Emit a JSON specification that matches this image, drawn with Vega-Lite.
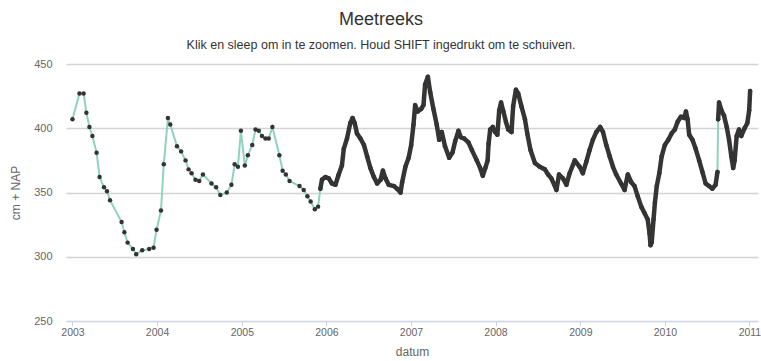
{
  "$schema": "https://vega.github.io/schema/vega-lite/v6.json",
  "width": 692,
  "height": 257,
  "autosize": {"type": "none"},
  "padding": {"left": 66, "top": 64, "right": 3, "bottom": 40},
  "background": "white",
  "title": {
    "text": "Meetreeks",
    "subtitle": "Klik en sleep om in te zoomen. Houd SHIFT ingedrukt om te schuiven.",
    "anchor": "middle",
    "frame": "group",
    "dx": -31,
    "offset": 7,
    "font": "Liberation Sans",
    "fontSize": 18,
    "fontWeight": "normal",
    "color": "#333333",
    "subtitleFont": "Liberation Sans",
    "subtitleFontSize": 12.5,
    "subtitleColor": "#333333",
    "subtitlePadding": 10
  },
  "data": {
    "values": [
      {"datum": "2003-01-01", "stand": 407, "bron": "handmatig"},
      {"datum": "2003-01-31", "stand": 427, "bron": "handmatig"},
      {"datum": "2003-02-18", "stand": 427, "bron": "handmatig"},
      {"datum": "2003-03-02", "stand": 412, "bron": "handmatig"},
      {"datum": "2003-03-15", "stand": 401, "bron": "handmatig"},
      {"datum": "2003-03-28", "stand": 394, "bron": "handmatig"},
      {"datum": "2003-04-15", "stand": 381, "bron": "handmatig"},
      {"datum": "2003-04-28", "stand": 362, "bron": "handmatig"},
      {"datum": "2003-05-17", "stand": 354, "bron": "handmatig"},
      {"datum": "2003-05-30", "stand": 351, "bron": "handmatig"},
      {"datum": "2003-06-12", "stand": 344, "bron": "handmatig"},
      {"datum": "2003-08-01", "stand": 327, "bron": "handmatig"},
      {"datum": "2003-08-13", "stand": 319, "bron": "handmatig"},
      {"datum": "2003-08-27", "stand": 311, "bron": "handmatig"},
      {"datum": "2003-09-19", "stand": 306, "bron": "handmatig"},
      {"datum": "2003-10-03", "stand": 302, "bron": "handmatig"},
      {"datum": "2003-10-29", "stand": 305, "bron": "handmatig"},
      {"datum": "2003-11-28", "stand": 306, "bron": "handmatig"},
      {"datum": "2003-12-17", "stand": 307, "bron": "handmatig"},
      {"datum": "2003-12-30", "stand": 321, "bron": "handmatig"},
      {"datum": "2004-01-18", "stand": 336, "bron": "handmatig"},
      {"datum": "2004-01-30", "stand": 372, "bron": "handmatig"},
      {"datum": "2004-02-17", "stand": 408, "bron": "handmatig"},
      {"datum": "2004-02-27", "stand": 403, "bron": "handmatig"},
      {"datum": "2004-03-27", "stand": 386, "bron": "handmatig"},
      {"datum": "2004-04-14", "stand": 382, "bron": "handmatig"},
      {"datum": "2004-05-03", "stand": 375, "bron": "handmatig"},
      {"datum": "2004-05-16", "stand": 368, "bron": "handmatig"},
      {"datum": "2004-05-29", "stand": 365, "bron": "handmatig"},
      {"datum": "2004-06-15", "stand": 360, "bron": "handmatig"},
      {"datum": "2004-07-01", "stand": 359, "bron": "handmatig"},
      {"datum": "2004-07-17", "stand": 364, "bron": "handmatig"},
      {"datum": "2004-08-23", "stand": 357, "bron": "handmatig"},
      {"datum": "2004-09-12", "stand": 354, "bron": "handmatig"},
      {"datum": "2004-09-30", "stand": 348, "bron": "handmatig"},
      {"datum": "2004-10-28", "stand": 350, "bron": "handmatig"},
      {"datum": "2004-11-17", "stand": 356, "bron": "handmatig"},
      {"datum": "2004-12-01", "stand": 372, "bron": "handmatig"},
      {"datum": "2004-12-15", "stand": 370, "bron": "handmatig"},
      {"datum": "2004-12-28", "stand": 398, "bron": "handmatig"},
      {"datum": "2005-01-14", "stand": 371, "bron": "handmatig"},
      {"datum": "2005-01-27", "stand": 379, "bron": "handmatig"},
      {"datum": "2005-02-15", "stand": 387, "bron": "handmatig"},
      {"datum": "2005-03-01", "stand": 399, "bron": "handmatig"},
      {"datum": "2005-03-15", "stand": 398, "bron": "handmatig"},
      {"datum": "2005-03-29", "stand": 394, "bron": "handmatig"},
      {"datum": "2005-04-13", "stand": 392, "bron": "handmatig"},
      {"datum": "2005-04-27", "stand": 392, "bron": "handmatig"},
      {"datum": "2005-05-13", "stand": 401, "bron": "handmatig"},
      {"datum": "2005-06-12", "stand": 379, "bron": "handmatig"},
      {"datum": "2005-06-26", "stand": 367, "bron": "handmatig"},
      {"datum": "2005-07-10", "stand": 364, "bron": "handmatig"},
      {"datum": "2005-07-26", "stand": 359, "bron": "handmatig"},
      {"datum": "2005-09-07", "stand": 355, "bron": "handmatig"},
      {"datum": "2005-09-25", "stand": 352, "bron": "handmatig"},
      {"datum": "2005-10-11", "stand": 347, "bron": "handmatig"},
      {"datum": "2005-10-25", "stand": 343, "bron": "handmatig"},
      {"datum": "2005-11-12", "stand": 337, "bron": "handmatig"},
      {"datum": "2005-11-26", "stand": 339, "bron": "handmatig"},
      {"datum": "2005-12-06", "stand": 353, "bron": "diver", "deel": 1},
      {"datum": "2005-12-13", "stand": 360, "bron": "diver", "deel": 1},
      {"datum": "2005-12-28", "stand": 362, "bron": "diver", "deel": 1},
      {"datum": "2006-01-11", "stand": 361, "bron": "diver", "deel": 1},
      {"datum": "2006-01-25", "stand": 357, "bron": "diver", "deel": 1},
      {"datum": "2006-02-09", "stand": 356, "bron": "diver", "deel": 1},
      {"datum": "2006-02-23", "stand": 364, "bron": "diver", "deel": 1},
      {"datum": "2006-03-09", "stand": 371, "bron": "diver", "deel": 1},
      {"datum": "2006-03-17", "stand": 384, "bron": "diver", "deel": 1},
      {"datum": "2006-03-31", "stand": 392, "bron": "diver", "deel": 1},
      {"datum": "2006-04-14", "stand": 404, "bron": "diver", "deel": 1},
      {"datum": "2006-04-24", "stand": 408, "bron": "diver", "deel": 1},
      {"datum": "2006-05-03", "stand": 404, "bron": "diver", "deel": 1},
      {"datum": "2006-05-13", "stand": 396, "bron": "diver", "deel": 1},
      {"datum": "2006-05-28", "stand": 392, "bron": "diver", "deel": 1},
      {"datum": "2006-06-12", "stand": 387, "bron": "diver", "deel": 1},
      {"datum": "2006-06-26", "stand": 378, "bron": "diver", "deel": 1},
      {"datum": "2006-07-10", "stand": 369, "bron": "diver", "deel": 1},
      {"datum": "2006-07-25", "stand": 362, "bron": "diver", "deel": 1},
      {"datum": "2006-08-08", "stand": 357, "bron": "diver", "deel": 1},
      {"datum": "2006-08-23", "stand": 360, "bron": "diver", "deel": 1},
      {"datum": "2006-09-02", "stand": 367, "bron": "diver", "deel": 1},
      {"datum": "2006-09-13", "stand": 361, "bron": "diver", "deel": 1},
      {"datum": "2006-09-27", "stand": 356, "bron": "diver", "deel": 1},
      {"datum": "2006-10-19", "stand": 355, "bron": "diver", "deel": 1},
      {"datum": "2006-11-02", "stand": 353, "bron": "diver", "deel": 1},
      {"datum": "2006-11-17", "stand": 350, "bron": "diver", "deel": 1},
      {"datum": "2006-11-24", "stand": 358, "bron": "diver", "deel": 1},
      {"datum": "2006-12-08", "stand": 370, "bron": "diver", "deel": 1},
      {"datum": "2006-12-22", "stand": 377, "bron": "diver", "deel": 1},
      {"datum": "2007-01-02", "stand": 387, "bron": "diver", "deel": 1},
      {"datum": "2007-01-12", "stand": 403, "bron": "diver", "deel": 1},
      {"datum": "2007-01-19", "stand": 418, "bron": "diver", "deel": 1},
      {"datum": "2007-01-30", "stand": 413, "bron": "diver", "deel": 1},
      {"datum": "2007-02-14", "stand": 415, "bron": "diver", "deel": 1},
      {"datum": "2007-02-24", "stand": 418, "bron": "diver", "deel": 1},
      {"datum": "2007-03-03", "stand": 434, "bron": "diver", "deel": 1},
      {"datum": "2007-03-15", "stand": 440, "bron": "diver", "deel": 1},
      {"datum": "2007-03-25", "stand": 428, "bron": "diver", "deel": 1},
      {"datum": "2007-04-08", "stand": 415, "bron": "diver", "deel": 1},
      {"datum": "2007-04-22", "stand": 403, "bron": "diver", "deel": 1},
      {"datum": "2007-05-03", "stand": 391, "bron": "diver", "deel": 1},
      {"datum": "2007-05-14", "stand": 397, "bron": "diver", "deel": 1},
      {"datum": "2007-05-28", "stand": 386, "bron": "diver", "deel": 1},
      {"datum": "2007-06-15", "stand": 377, "bron": "diver", "deel": 1},
      {"datum": "2007-06-29", "stand": 381, "bron": "diver", "deel": 1},
      {"datum": "2007-07-11", "stand": 390, "bron": "diver", "deel": 1},
      {"datum": "2007-07-25", "stand": 398, "bron": "diver", "deel": 1},
      {"datum": "2007-08-04", "stand": 393, "bron": "diver", "deel": 1},
      {"datum": "2007-08-19", "stand": 392, "bron": "diver", "deel": 1},
      {"datum": "2007-09-06", "stand": 389, "bron": "diver", "deel": 1},
      {"datum": "2007-09-21", "stand": 383, "bron": "diver", "deel": 1},
      {"datum": "2007-10-12", "stand": 375, "bron": "diver", "deel": 1},
      {"datum": "2007-10-27", "stand": 369, "bron": "diver", "deel": 1},
      {"datum": "2007-11-07", "stand": 363, "bron": "diver", "deel": 1},
      {"datum": "2007-11-18", "stand": 369, "bron": "diver", "deel": 1},
      {"datum": "2007-11-28", "stand": 375, "bron": "diver", "deel": 1},
      {"datum": "2007-12-02", "stand": 388, "bron": "diver", "deel": 1},
      {"datum": "2007-12-09", "stand": 399, "bron": "diver", "deel": 1},
      {"datum": "2007-12-20", "stand": 401, "bron": "diver", "deel": 1},
      {"datum": "2007-12-30", "stand": 397, "bron": "diver", "deel": 1},
      {"datum": "2008-01-09", "stand": 395, "bron": "diver", "deel": 1},
      {"datum": "2008-01-17", "stand": 414, "bron": "diver", "deel": 1},
      {"datum": "2008-01-25", "stand": 420, "bron": "diver", "deel": 1},
      {"datum": "2008-02-04", "stand": 413, "bron": "diver", "deel": 1},
      {"datum": "2008-02-15", "stand": 405, "bron": "diver", "deel": 1},
      {"datum": "2008-02-25", "stand": 399, "bron": "diver", "deel": 1},
      {"datum": "2008-03-10", "stand": 397, "bron": "diver", "deel": 1},
      {"datum": "2008-03-17", "stand": 417, "bron": "diver", "deel": 1},
      {"datum": "2008-03-29", "stand": 430, "bron": "diver", "deel": 1},
      {"datum": "2008-04-08", "stand": 427, "bron": "diver", "deel": 1},
      {"datum": "2008-04-22", "stand": 417, "bron": "diver", "deel": 1},
      {"datum": "2008-05-07", "stand": 407, "bron": "diver", "deel": 1},
      {"datum": "2008-05-17", "stand": 396, "bron": "diver", "deel": 1},
      {"datum": "2008-05-31", "stand": 383, "bron": "diver", "deel": 1},
      {"datum": "2008-06-19", "stand": 373, "bron": "diver", "deel": 1},
      {"datum": "2008-07-10", "stand": 370, "bron": "diver", "deel": 1},
      {"datum": "2008-08-01", "stand": 368, "bron": "diver", "deel": 1},
      {"datum": "2008-08-15", "stand": 364, "bron": "diver", "deel": 1},
      {"datum": "2008-08-29", "stand": 361, "bron": "diver", "deel": 1},
      {"datum": "2008-09-20", "stand": 352, "bron": "diver", "deel": 1},
      {"datum": "2008-10-01", "stand": 364, "bron": "diver", "deel": 1},
      {"datum": "2008-10-18", "stand": 361, "bron": "diver", "deel": 1},
      {"datum": "2008-11-02", "stand": 356, "bron": "diver", "deel": 1},
      {"datum": "2008-11-16", "stand": 365, "bron": "diver", "deel": 1},
      {"datum": "2008-12-08", "stand": 375, "bron": "diver", "deel": 1},
      {"datum": "2008-12-29", "stand": 370, "bron": "diver", "deel": 1},
      {"datum": "2009-01-12", "stand": 365, "bron": "diver", "deel": 1},
      {"datum": "2009-01-27", "stand": 374, "bron": "diver", "deel": 1},
      {"datum": "2009-02-10", "stand": 383, "bron": "diver", "deel": 1},
      {"datum": "2009-02-24", "stand": 391, "bron": "diver", "deel": 1},
      {"datum": "2009-03-11", "stand": 397, "bron": "diver", "deel": 1},
      {"datum": "2009-03-28", "stand": 401, "bron": "diver", "deel": 1},
      {"datum": "2009-04-09", "stand": 397, "bron": "diver", "deel": 1},
      {"datum": "2009-04-23", "stand": 387, "bron": "diver", "deel": 1},
      {"datum": "2009-05-08", "stand": 378, "bron": "diver", "deel": 1},
      {"datum": "2009-05-22", "stand": 370, "bron": "diver", "deel": 1},
      {"datum": "2009-06-05", "stand": 364, "bron": "diver", "deel": 1},
      {"datum": "2009-06-26", "stand": 357, "bron": "diver", "deel": 1},
      {"datum": "2009-07-11", "stand": 352, "bron": "diver", "deel": 1},
      {"datum": "2009-07-25", "stand": 364, "bron": "diver", "deel": 1},
      {"datum": "2009-08-09", "stand": 358, "bron": "diver", "deel": 1},
      {"datum": "2009-08-23", "stand": 355, "bron": "diver", "deel": 1},
      {"datum": "2009-09-06", "stand": 347, "bron": "diver", "deel": 1},
      {"datum": "2009-09-21", "stand": 339, "bron": "diver", "deel": 1},
      {"datum": "2009-10-05", "stand": 334, "bron": "diver", "deel": 1},
      {"datum": "2009-10-19", "stand": 329, "bron": "diver", "deel": 1},
      {"datum": "2009-10-27", "stand": 318, "bron": "diver", "deel": 1},
      {"datum": "2009-10-31", "stand": 309, "bron": "diver", "deel": 1},
      {"datum": "2009-11-05", "stand": 311, "bron": "diver", "deel": 1},
      {"datum": "2009-11-13", "stand": 329, "bron": "diver", "deel": 1},
      {"datum": "2009-11-19", "stand": 342, "bron": "diver", "deel": 1},
      {"datum": "2009-11-27", "stand": 355, "bron": "diver", "deel": 1},
      {"datum": "2009-12-08", "stand": 365, "bron": "diver", "deel": 1},
      {"datum": "2009-12-18", "stand": 378, "bron": "diver", "deel": 1},
      {"datum": "2010-01-01", "stand": 387, "bron": "diver", "deel": 1},
      {"datum": "2010-01-16", "stand": 391, "bron": "diver", "deel": 1},
      {"datum": "2010-01-30", "stand": 396, "bron": "diver", "deel": 1},
      {"datum": "2010-02-13", "stand": 399, "bron": "diver", "deel": 1},
      {"datum": "2010-02-25", "stand": 405, "bron": "diver", "deel": 1},
      {"datum": "2010-03-11", "stand": 409, "bron": "diver", "deel": 1},
      {"datum": "2010-03-25", "stand": 408, "bron": "diver", "deel": 1},
      {"datum": "2010-04-02", "stand": 413, "bron": "diver", "deel": 1},
      {"datum": "2010-04-09", "stand": 407, "bron": "diver", "deel": 1},
      {"datum": "2010-04-16", "stand": 395, "bron": "diver", "deel": 1},
      {"datum": "2010-04-30", "stand": 391, "bron": "diver", "deel": 1},
      {"datum": "2010-05-14", "stand": 384, "bron": "diver", "deel": 1},
      {"datum": "2010-05-29", "stand": 375, "bron": "diver", "deel": 1},
      {"datum": "2010-06-12", "stand": 366, "bron": "diver", "deel": 1},
      {"datum": "2010-06-26", "stand": 357, "bron": "diver", "deel": 1},
      {"datum": "2010-07-11", "stand": 355, "bron": "diver", "deel": 1},
      {"datum": "2010-07-25", "stand": 353, "bron": "diver", "deel": 1},
      {"datum": "2010-08-08", "stand": 356, "bron": "diver", "deel": 1},
      {"datum": "2010-08-16", "stand": 366, "bron": "diver", "deel": 1},
      {"datum": "2010-08-19", "stand": 407, "bron": "diver", "deel": 2},
      {"datum": "2010-08-23", "stand": 420, "bron": "diver", "deel": 2},
      {"datum": "2010-09-02", "stand": 414, "bron": "diver", "deel": 2},
      {"datum": "2010-09-13", "stand": 410, "bron": "diver", "deel": 2},
      {"datum": "2010-09-25", "stand": 401, "bron": "diver", "deel": 2},
      {"datum": "2010-10-05", "stand": 391, "bron": "diver", "deel": 2},
      {"datum": "2010-10-15", "stand": 378, "bron": "diver", "deel": 2},
      {"datum": "2010-10-23", "stand": 369, "bron": "diver", "deel": 2},
      {"datum": "2010-10-29", "stand": 375, "bron": "diver", "deel": 2},
      {"datum": "2010-11-07", "stand": 394, "bron": "diver", "deel": 2},
      {"datum": "2010-11-17", "stand": 399, "bron": "diver", "deel": 2},
      {"datum": "2010-11-27", "stand": 394, "bron": "diver", "deel": 2},
      {"datum": "2010-12-11", "stand": 400, "bron": "diver", "deel": 2},
      {"datum": "2010-12-23", "stand": 404, "bron": "diver", "deel": 2},
      {"datum": "2010-12-31", "stand": 414, "bron": "diver", "deel": 2},
      {"datum": "2011-01-04", "stand": 429, "bron": "diver", "deel": 2}
    ]
  },
  "encoding": {
    "x": {
      "field": "datum",
      "type": "temporal",
      "scale": {"type": "utc", "domain": ["2002-12-04", "2011-02-07"], "nice": false},
      "axis": {
        "title": "datum",
        "format": "%Y",
        "tickCount": {"interval": "year", "step": 1},
        "grid": false,
        "domainColor": "#ccd6eb",
        "domainWidth": 1,
        "tickColor": "#ccd6eb",
        "tickSize": 5,
        "labelPadding": 1,
        "labelFlush": false,
        "labelFont": "Liberation Sans",
        "labelFontSize": 10.5,
        "labelColor": "#666666",
        "titleFont": "Liberation Sans",
        "titleFontSize": 12,
        "titleFontWeight": "normal",
        "titleColor": "#666666",
        "titlePadding": 9
      }
    },
    "y": {
      "field": "stand",
      "type": "quantitative",
      "scale": {"domain": [250, 450], "nice": false, "zero": false},
      "axis": {
        "title": "cm + NAP",
        "values": [250, 300, 350, 400, 450],
        "domain": false,
        "ticks": false,
        "gridColor": "#d4d4d4",
        "gridWidth": 1.5,
        "labelPadding": 14,
        "labelFont": "Liberation Sans",
        "labelFontSize": 11,
        "labelColor": "#666666",
        "titleFont": "Liberation Sans",
        "titleFontSize": 12,
        "titleFontWeight": "normal",
        "titleColor": "#666666",
        "titlePadding": 11
      }
    }
  },
  "layer": [
    {"mark": {"type": "line", "color": "#8fd3bd", "strokeWidth": 2}},
    {
      "transform": [{"filter": "datum.bron === 'diver'"}],
      "mark": {"type": "line", "color": "#353533", "strokeWidth": 4.5, "strokeCap": "round", "strokeJoin": "round"},
      "encoding": {"detail": {"field": "deel", "type": "nominal"}}
    },
    {"mark": {"type": "point", "filled": true, "color": "#333333", "size": 20, "opacity": 1}}
  ],
  "config": {"view": {"stroke": null}, "font": "Liberation Sans"}
}
